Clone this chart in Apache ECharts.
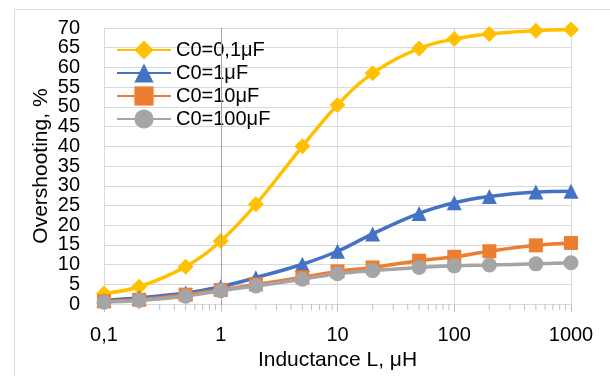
<!DOCTYPE html>
<html>
<head>
<meta charset="utf-8">
<script src="https://cdn.jsdelivr.net/npm/echarts@6/dist/echarts.min.js"></script>
<style>
  html, body { margin: 0; padding: 0; background: #fff; }
  #chart { width: 610px; height: 376px; }
</style>
</head>
<body>
<div id="chart"></div>
<script>
// inductance values (μH)
const inductance = [0.1, 0.2, 0.5, 1, 2, 5, 10, 20, 50, 100, 200, 500, 1000];
// overshooting, %
const c01 = [2.7, 4.4, 9.5, 16.0, 25.3, 40.0, 50.5, 58.5, 64.8, 67.2, 68.5, 69.3, 69.6];
const c1 = [0.9, 1.6, 2.8, 4.4, 6.7, 10.1, 13.4, 17.8, 23.0, 25.7, 27.3, 28.4, 28.6];
const c10 = [0.7, 1.1, 2.4, 3.6, 5.0, 6.8, 8.3, 9.3, 11.0, 12.0, 13.4, 14.9, 15.5];
const c100 = [0.5, 0.9, 2.0, 3.4, 4.6, 6.3, 7.7, 8.5, 9.3, 9.7, 9.9, 10.2, 10.5];
const seriesNames = ['C0=0,1μF', 'C0=1μF', 'C0=10μF', 'C0=100μF'];
// y tick labels
const yTicks = [0, 5, 10, 15, 20, 25, 30, 35, 40, 45, 50, 55, 60, 65, 70];
// minor ticks of the log axis
const minorTicks = [
  0.2, 0.3, 0.4, 0.5, 0.6, 0.7, 0.8, 0.9,
  2, 3, 4, 5, 6, 7, 8, 9,
  20, 30, 40, 50, 60, 70, 80, 90,
  200, 300, 400, 500, 600, 700, 800, 900
];

const font = 'Liberation Sans, Arial, sans-serif';
const pairs = (ys) => inductance.map((x, i) => [x, ys[i]]);

function lineSeries(name, ys, color, symbol, size) {
  return {
    name: name,
    type: 'line',
    data: pairs(ys),
    smooth: 0.4,
    symbol: symbol,
    symbolSize: size,
    lineStyle: { color: color, width: 3.5 },
    itemStyle: { color: color },
    z: 3
  };
}

const chart = echarts.init(document.getElementById('chart'));
chart.setOption({
  animation: false,
  textStyle: { fontFamily: font },
  grid: { left: 104, right: 39, top: 28, bottom: 63 },
  graphic: [{
    type: 'rect',
    shape: { x: 14.5, y: 9.5, width: 800, height: 600 },
    style: { fill: 'none', stroke: '#d9d9d9', lineWidth: 1 },
    silent: true
  }],
  legend: {
    data: seriesNames,
    orient: 'vertical',
    left: 116,
    top: 40,
    padding: 0,
    itemWidth: 54,
    itemHeight: 24,
    itemGap: 3,
    textStyle: { fontSize: 20, color: '#000', fontFamily: font, lineHeight: 20 }
  },
  xAxis: {
    type: 'log',
    logBase: 10,
    min: 0.1,
    max: 1000,
    name: 'Inductance L, μH',
    nameLocation: 'middle',
    nameGap: 39,
    nameTextStyle: { fontSize: 21, color: '#000', fontFamily: font },
    axisLine: { lineStyle: { color: '#d9d9d9', width: 1 } },
    axisTick: { show: true, length: 8, lineStyle: { color: '#bfbfbf' } },
    splitLine: { show: true, lineStyle: { color: '#d9d9d9', width: 1 } },
    axisLabel: {
      fontSize: 20,
      color: '#000',
      margin: 21,
      formatter: (v) => String(+v.toPrecision(3)).replace('.', ',')
    }
  },
  yAxis: {
    type: 'value',
    min: 0,
    max: 70,
    interval: 5,
    name: 'Overshooting, %',
    nameLocation: 'middle',
    nameGap: 52,
    nameTextStyle: { fontSize: 21, color: '#000', fontFamily: font },
    axisLine: { show: false },
    axisTick: { show: false },
    splitLine: { lineStyle: { color: '#d9d9d9', width: 1 } },
    axisLabel: { show: false }
  },
  series: [
    {
      name: 'minor',
      type: 'custom',
      data: minorTicks.map((v) => [v, 0]),
      clip: false,
      silent: true,
      z: 1,
      renderItem: function (params, api) {
        const p = api.coord([api.value(0), 0]);
        return {
          type: 'line',
          shape: { x1: p[0], y1: p[1], x2: p[0], y2: p[1] + 6 },
          style: { stroke: '#bfbfbf', lineWidth: 1 }
        };
      },
      markLine: {
        silent: true,
        symbol: 'none',
        label: { show: false },
        lineStyle: { color: '#a6a6a6', width: 1, type: 'solid' },
        data: [{ xAxis: 1 }]
      }
    },
    {
      // y tick labels (the axis hides the end ones when they touch)
      name: 'ylabels',
      type: 'custom',
      data: yTicks.map((v) => [0.1, v]),
      clip: false,
      silent: true,
      renderItem: function (params, api) {
        const p = api.coord([api.value(0), api.value(1)]);
        return {
          type: 'text',
          x: p[0] - 24,
          y: p[1],
          style: {
            text: String(api.value(1)),
            fill: '#000',
            font: '20px ' + font,
            align: 'right',
            verticalAlign: 'middle'
          }
        };
      }
    },
    lineSeries(seriesNames[0], c01, '#FFC000', 'diamond', 16),
    lineSeries(seriesNames[1], c1, '#4472C4', 'triangle', 15),
    lineSeries(seriesNames[2], c10, '#ED7D31', 'rect', 14),
    lineSeries(seriesNames[3], c100, '#A5A5A5', 'circle', 15)
  ]
});
</script>
</body>
</html>
